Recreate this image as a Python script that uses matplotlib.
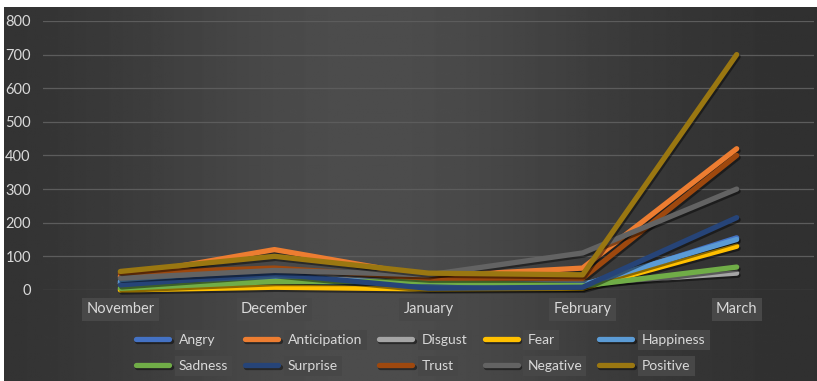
import numpy as np
import matplotlib
matplotlib.use('Agg')
import matplotlib.pyplot as plt
import matplotlib.patheffects as pe

months = ["November", "December", "January", "February", "March"]

angry = [20, 30, 10, 10, 155]
anticipation = [40, 120, 40, 65, 420]
disgust = [20, 50, 15, 20, 50]
fear = [0, 8, 3, 5, 130]
happiness = [25, 35, 20, 15, 150]
sadness = [5, 25, 25, 12, 68]
surprise = [15, 48, 5, 8, 215]
trust = [50, 65, 35, 35, 400]
negative = [35, 58, 45, 110, 300]
positive = [55, 100, 50, 45, 700]

series = [
    ("Angry", angry, "#4472C4"),
    ("Anticipation", anticipation, "#ED7D31"),
    ("Disgust", disgust, "#A5A5A5"),
    ("Fear", fear, "#FFC000"),
    ("Happiness", happiness, "#5B9BD5"),
    ("Sadness", sadness, "#70AD47"),
    ("Surprise", surprise, "#264478"),
    ("Trust", trust, "#9E480E"),
    ("Negative", negative, "#636363"),
    ("Positive", positive, "#9A7711"),
]

plt.rcParams['font.family'] = ['Lato', 'DejaVu Sans']
txt = "#d9d9d9"

fig = plt.figure(figsize=(8.17, 3.81), dpi=100)
fig.patch.set_facecolor("white")

# dark gradient backdrop
bg = fig.add_axes([0.005, 0, 0.995, 0.982])
bg.set_axis_off()
xs = np.linspace(0, 1, 400)
shade = 0.18 + 0.12 * np.exp(-((xs - 0.45) / 0.33) ** 2)
grad = np.tile(shade, (20, 1))
bg.imshow(grad, cmap="gray", vmin=0, vmax=1, aspect="auto", extent=[0, 1, 0, 1])

ax = fig.add_axes([0.053, 0.239, 0.943, 0.706])
ax.set_facecolor("none")
x = np.arange(len(months))

for name, vals, col in series:
    ax.plot(x, vals, color=col, lw=3.8, label=name, solid_capstyle="round",
            solid_joinstyle="round", clip_on=False,
            path_effects=[pe.SimpleLineShadow(offset=(1, -1.5), shadow_color="black", alpha=0.45),
                          pe.Normal()])

ax.set_xlim(-0.5, len(months) - 0.5)
ax.set_ylim(0, 800)
ax.set_yticks(range(0, 801, 100))
ax.grid(axis="y", color="#5c5c5c", lw=0.9)
ax.set_axisbelow(True)
for s in ax.spines.values():
    s.set_visible(False)
ax.tick_params(length=0, colors=txt, labelsize=10.5)
ax.tick_params(axis="y", pad=9)
ax.set_xticks(x)
ax.set_xticklabels(months)
ax.tick_params(axis="x", pad=9)
for lbl in ax.get_xticklabels():
    lbl.set_bbox(dict(facecolor="#484848", edgecolor="none", pad=3))

# legend laid out row by row
handles, labels = ax.get_legend_handles_labels()
order = [0, 5, 1, 6, 2, 7, 3, 8, 4, 9]
leg = fig.legend([handles[i] for i in order], [labels[i] for i in order],
                 ncol=5, loc="center", bbox_to_anchor=(0.515, 0.074), frameon=False,
                 fontsize=10, handlelength=2.4, columnspacing=1.2, handletextpad=0.7,
                 labelspacing=1.0)
for t in leg.get_texts():
    t.set_color(txt)
    t.set_bbox(dict(facecolor="#474747", edgecolor="none", pad=3))

fig.savefig("out.png", dpi=100)
